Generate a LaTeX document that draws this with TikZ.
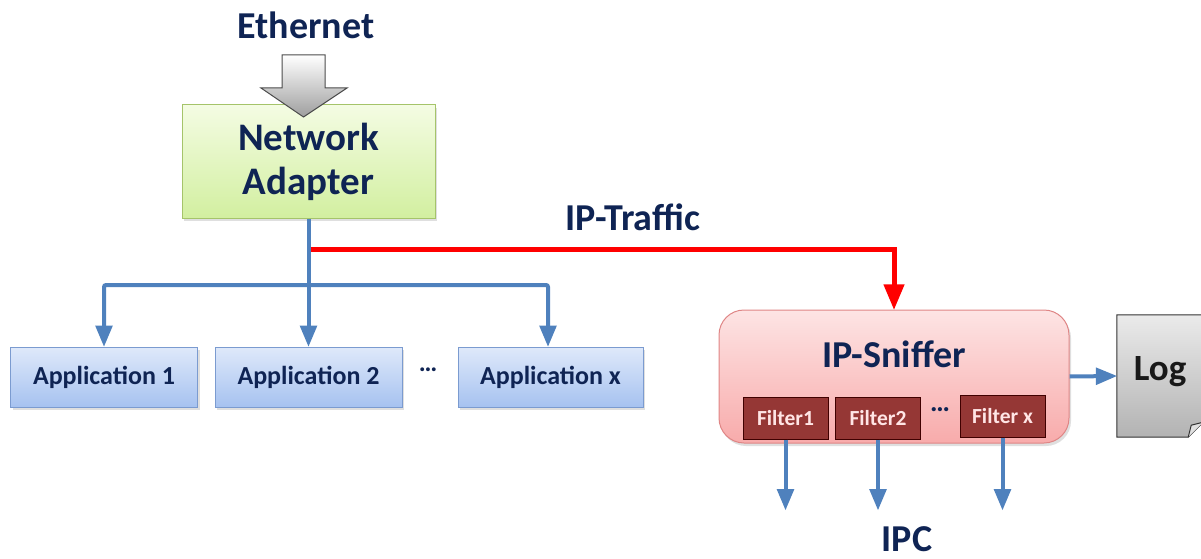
\documentclass[tikz,border=0pt]{standalone}
\usepackage{fontspec}
\setmainfont{Carlito}
\usetikzlibrary{arrows,shadows}

\definecolor{navytext}{HTML}{0F2454}
\definecolor{linkblue}{HTML}{4F81BD}
\definecolor{filterred}{HTML}{953735}
\definecolor{apptop}{HTML}{DFE9FA}
\definecolor{appbottom}{HTML}{A6C2F0}
\definecolor{appborder}{HTML}{7B9BD0}
\definecolor{adaptertop}{HTML}{F4FCE3}
\definecolor{adapterbottom}{HTML}{D2EFA0}
\definecolor{adapterborder}{HTML}{A5C46A}
\definecolor{sniffertop}{HTML}{FDE4E4}
\definecolor{snifferbottom}{HTML}{F8ABAB}
\definecolor{snifferborder}{HTML}{DF8585}

\begin{document}
\begin{tikzpicture}[x=1pt,y=-1pt,>=triangle 45,font=\bfseries]
		\tikzstyle{label}=[text=navytext,font=\fontsize{38}{42}\selectfont\bfseries]
		\tikzstyle{appbox}=[draw=appborder,line width=1pt,top color=apptop,bottom color=appbottom,minimum width=187pt,minimum height=60pt,inner sep=0pt,text=navytext,font=\fontsize{26}{28}\selectfont\bfseries,drop shadow={shadow xshift=2pt,shadow yshift=-3pt,opacity=0.25}]
		\tikzstyle{filterbox}=[draw=black!75!red,line width=1pt,fill=filterred,minimum width=85pt,minimum height=42pt,inner sep=0pt,text=red!10,font=\fontsize{21.5}{23}\selectfont\bfseries]
		\tikzstyle{bluelink}=[->,draw=linkblue,line width=4pt,rounded corners=2pt]
		\useasboundingbox (0,0) rectangle (1201,559);

		% inputs
		\node[label] (ethernet) at (306,25) {Ethernet};
		\node[draw=adapterborder,line width=1pt,top color=adaptertop,bottom color=adapterbottom,minimum width=253pt,minimum height=113pt,align=center,text=navytext,font=\fontsize{39}{44}\selectfont\bfseries,drop shadow={shadow xshift=2pt,shadow yshift=-3pt,opacity=0.25}] (adapter) at (308.5,161.5) {Network\\Adapter};
		\draw[draw=black!70,line width=1pt,top color=white,bottom color=black!38] (282,55) -- (325,55) -- (325,88) -- (347,88) -- (303.5,117) -- (261,88) -- (282,88) -- cycle;

		% applications
		\node[appbox] (app1) at (104,377) {Application 1};
		\node[appbox] (app2) at (308.5,377) {Application 2};
		\node[appbox,minimum width=185pt] (appx) at (550.5,377) {Application x};
		\node[text=navytext,font=\fontsize{26}{28}\selectfont\bfseries] (appdots) at (428,370) {…};

		% sniffer
		\node[draw=snifferborder,line width=1pt,rounded corners=25pt,top color=sniffertop,bottom color=snifferbottom,minimum width=350pt,minimum height=133pt,drop shadow={shadow xshift=2pt,shadow yshift=-3pt,opacity=0.25}] (sniffer) at (894,376.5) {};
		\node[label] (snifferlabel) at (894,354) {IP-Sniffer};
		\node[filterbox] (filter1) at (785.5,418) {Filter1};
		\node[filterbox] (filter2) at (878,418) {Filter2};
		\node[filterbox] (filterx) at (1002.5,416) {Filter x};
		\node[text=navytext,font=\fontsize{28}{30}\selectfont\bfseries] (filterdots) at (940,410) {…};

		% log file
		\node[minimum width=86pt,minimum height=122pt,inner sep=0pt] (log) at (1160,376) {};
		\draw[draw=black!80,line width=1pt,top color=black!8,bottom color=black!30] (log.north west) -- (log.north east) -- ([yshift=15pt]log.south east) -- ([xshift=-15pt]log.south east) -- (log.south west) -- cycle;
		\draw[draw=black!80,line width=1pt,fill=black!12] ([yshift=15pt]log.south east) -- ([xshift=-12pt,yshift=12pt]log.south east) -- ([xshift=-15pt]log.south east);
		\node[text=black!90,font=\fontsize{37}{40}\selectfont\bfseries] (loglabel) at (1160,372) {Log};

		\node[label] (traffic) at (633,217) {IP-Traffic};
		\node[label,inner sep=0pt] (ipc) at (907,539) {IPC};

		\coordinate (tap) at (308,249);
		\coordinate (bus) at (308,285);
		\coordinate (ipc1) at (785.5,510);
		\coordinate (ipc2) at (878,510);
		\coordinate (ipcx) at (1002.5,510);

		\draw[->,draw=red,line width=5pt] (tap) -| (sniffer.north);
		\draw[bluelink] (adapter.south) -- (app2.north);
		\draw[bluelink] (bus) -| (app1.north);
		\draw[bluelink] (bus) -| ([xshift=-2.5pt]appx.north);
		\draw[bluelink] (sniffer.east) -- (log.west);
		\draw[bluelink] (filter1.south) -- (ipc1);
		\draw[bluelink] (filter2.south) -- (ipc2);
		\draw[bluelink] (filterx.south) -- (ipcx);
\end{tikzpicture}
\end{document}
